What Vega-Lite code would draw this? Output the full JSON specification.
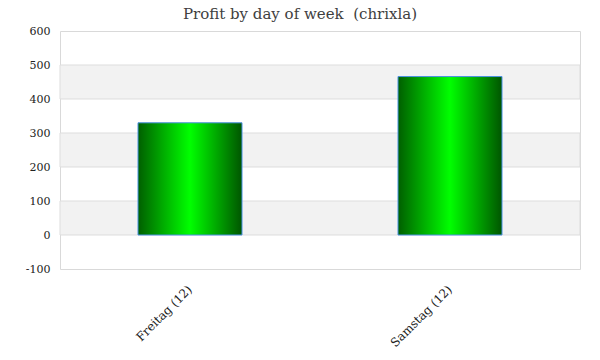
{
  "$schema": "https://vega.github.io/schema/vega-lite/v6.json",
  "width": 520,
  "height": 238,
  "autosize": "none",
  "padding": {"left": 60, "top": 31, "right": 20, "bottom": 91},
  "background": "white",
  "title": {
    "text": "Profit by day of week \u00a0(chrixla)",
    "font": "DejaVu Serif",
    "fontSize": 15,
    "fontWeight": "normal",
    "color": "#404040",
    "anchor": "middle",
    "dx": -20,
    "offset": 3
  },
  "config": {
    "view": {"stroke": "#d9d9d9", "strokeWidth": 1},
    "axis": {"labelFont": "DejaVu Serif", "labelColor": "#222222", "labelFontSize": 11}
  },
  "datasets": {
    "bands": [
      {"lo": 0, "hi": 100},
      {"lo": 200, "hi": 300},
      {"lo": 400, "hi": 500}
    ],
    "profit": [
      {"day": "Freitag (12)", "profit": 330},
      {"day": "Samstag (12)", "profit": 466}
    ]
  },
  "layer": [
    {
      "data": {"name": "bands"},
      "mark": {"type": "rect", "color": "#f2f2f2", "stroke": "#dddddd", "strokeWidth": 1},
      "encoding": {
        "y": {
          "field": "lo", "type": "quantitative", "title": null,
          "scale": {"domain": [-100, 600], "nice": false, "zero": false},
          "axis": {"values": [-100, 0, 100, 200, 300, 400, 500, 600], "labelOverlap": false, "labelExpr": "'' + datum.value", "ticks": false, "domain": false, "grid": false, "labelPadding": 10}
        },
        "y2": {"field": "hi"}
      }
    },
    {
      "data": {"name": "profit"},
      "mark": {
        "type": "bar",
        "stroke": "#4a90e2",
        "strokeWidth": 1,
        "fill": {
          "gradient": "linear",
          "x1": 0, "x2": 1, "y1": 0, "y2": 0,
          "stops": [
            {"offset": 0, "color": "#005f00"},
            {"offset": 0.5, "color": "#00ff00"},
            {"offset": 1, "color": "#005500"}
          ]
        }
      },
      "encoding": {
        "x": {
          "field": "day",
          "type": "nominal",
          "sort": null,
          "title": null,
          "scale": {"paddingInner": 0.6, "paddingOuter": 0.3},
          "axis": {"labelAngle": -45, "labelAlign": "right", "labelBaseline": "middle", "ticks": false, "domain": false, "labelPadding": 18, "labelFontSize": 12}
        },
        "y": {
          "field": "profit",
          "type": "quantitative",
          "title": null,
          "scale": {"domain": [-100, 600], "nice": false, "zero": false},
          "axis": {"values": [-100, 0, 100, 200, 300, 400, 500, 600], "labelOverlap": false, "labelExpr": "'' + datum.value", "ticks": false, "domain": false, "grid": false, "labelPadding": 10}
        }
      }
    }
  ]
}
